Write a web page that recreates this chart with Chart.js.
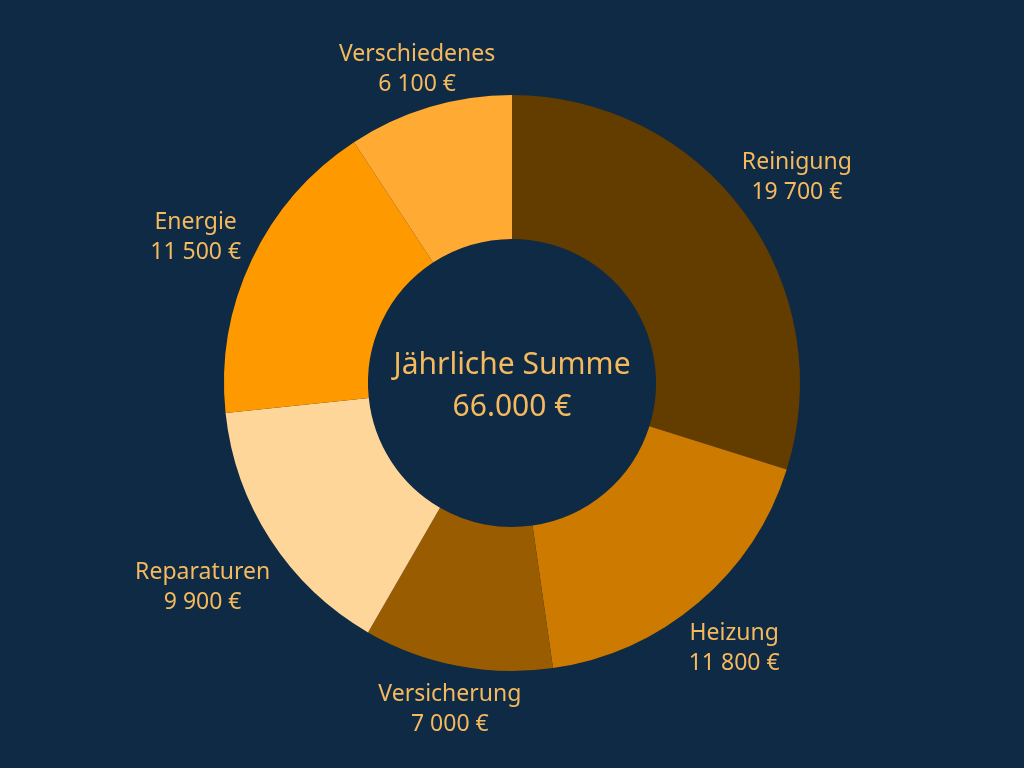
<!DOCTYPE html>
<html><head><meta charset="utf-8">
<script src="https://cdn.jsdelivr.net/npm/chart.js@4"></script>
<style>html,body{margin:0;padding:0;background:#0e2a44;}#wrap{width:1024px;height:768px;}</style>
</head><body><div id="wrap"><canvas id="c"></canvas></div>
<script>
const categories = ['Reinigung','Heizung','Versicherung','Reparaturen','Energie','Verschiedenes'];
const values = [19700, 11800, 7000, 9900, 11500, 6100];
const colors = ['#633c00','#cc7a00','#995c00','#ffd699','#ff9900','#ffab33'];
const centerTitle = 'Jährliche Summe';
const FONT = '"Noto Sans", "Open Sans", sans-serif';
const TXT = '#f5b95e';

function fmtSpace(v){ return String(v).replace(/\B(?=(\d{3})+(?!\d))/g,' ') + ' €'; }
function fmtDot(v){ return String(v).replace(/\B(?=(\d{3})+(?!\d))/g,'.') + ' €'; }

const labelPlugin = {
  id:'outLabels',
  afterDraw(chart){
    const ctx = chart.ctx;
    const meta = chart.getDatasetMeta(0);
    ctx.save();
    ctx.fillStyle = TXT;
    ctx.textAlign = 'center';
    ctx.textBaseline = 'middle';
    const fs = 23, lh = 30;
    ctx.font = fs + 'px ' + FONT;
    meta.data.forEach((arc,i)=>{
      const mid = (arc.startAngle + arc.endAngle)/2;
      const cx = arc.x, cy = arc.y, R = arc.outerRadius;
      const l1 = categories[i], l2 = fmtSpace(values[i]);
      const w = Math.max(ctx.measureText(l1).width, ctx.measureText(l2).width)/2;
      const dx = Math.cos(mid), dy = Math.sin(mid);
      const d = R + 21 + w*Math.abs(dx) + (dy > 0 ? 6*dy : 0);
      const x = cx + d*dx, y = cy + d*dy + 4;
      ctx.fillText(l1, x, y - lh/2);
      ctx.fillText(l2, x, y + lh/2);
    });
    // center
    const a = meta.data[0];
    ctx.font = '30px ' + FONT;
    ctx.fillText(centerTitle, a.x, a.y - 18);
    ctx.fillText(fmtDot(values.reduce((s,v)=>s+v,0)), a.x, a.y + 24);
    ctx.restore();
  }
};

new Chart(document.getElementById('c'), {
  type:'doughnut',
  data:{ labels:categories, datasets:[{ data:values, backgroundColor:colors, borderWidth:0 }]},
  options:{
    responsive:true, maintainAspectRatio:false, animation:false,
    cutout:'50%',
    layout:{ padding:{ top:95, bottom:97, left:0, right:0 } },
    plugins:{ legend:{display:false}, tooltip:{enabled:false} }
  },
  plugins:[labelPlugin]
});
</script></body></html>
